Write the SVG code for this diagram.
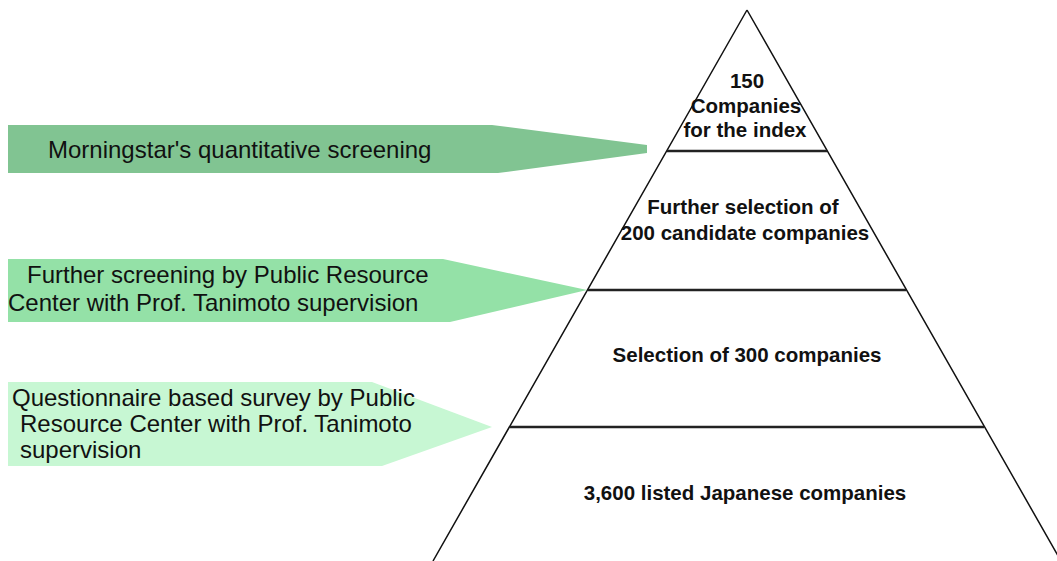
<svg xmlns="http://www.w3.org/2000/svg" width="1057" height="561" viewBox="0 0 1057 561">
<style>
.lbl{font-family:"Liberation Sans",Arial,sans-serif;font-size:24px;fill:#111}
.tri{font-family:"Liberation Sans",Arial,sans-serif;font-size:20.5px;font-weight:bold;fill:#111;text-anchor:middle}
.edge{stroke:#111;stroke-width:1.5;fill:none}
.tier{stroke:#222;stroke-width:2.6}
</style>
<rect width="1057" height="561" fill="#fff"/>
<g id="pyramid">
<path class="edge" d="M747 10 L433 561 M747 10 L1061 561"/>
</g>
<g id="connectors">
<line class="tier" x1="667" y1="151" x2="827" y2="151"/>
<line class="tier" x1="588" y1="290" x2="906" y2="290"/>
<line class="tier" x1="510" y1="427" x2="984" y2="427"/>
</g>
<g id="tier1">
<text class="tri" x="747" y="88">150</text>
<text class="tri" x="746" y="113">Companies</text>
<text class="tri" x="745" y="137">for the index</text>
</g>
<g id="tier2">
<text class="tri" x="743" y="214">Further selection of</text>
<text class="tri" x="745" y="240">200 candidate companies</text>
</g>
<g id="tier3">
<text class="tri" x="747" y="362">Selection of 300 companies</text>
</g>
<g id="tier4">
<text class="tri" x="745" y="500">3,600 listed Japanese companies</text>
</g>
<g id="arrow1">
<path d="M8 125 L492 125 L647 145 L647 153 L498 173 L8 173 Z" fill="#81c492"/>
<text class="lbl" x="48" y="158">Morningstar's quantitative screening</text>
</g>
<g id="arrow2">
<path d="M8 259 L443 259 L587 290 L450 322 L8 322 Z" fill="#94e1a7"/>
<text class="lbl" x="27" y="283">Further screening by Public Resource</text>
<text class="lbl" x="8" y="311">Center with Prof. Tanimoto supervision</text>
</g>
<g id="arrow3">
<path d="M8 382 L372 382 L492 427 L382 466 L8 466 Z" fill="#c7f7d3"/>
<text class="lbl" x="12" y="406">Questionnaire based survey by Public</text>
<text class="lbl" x="20" y="432">Resource Center with Prof. Tanimoto</text>
<text class="lbl" x="20" y="458">supervision</text>
</g>
</svg>
